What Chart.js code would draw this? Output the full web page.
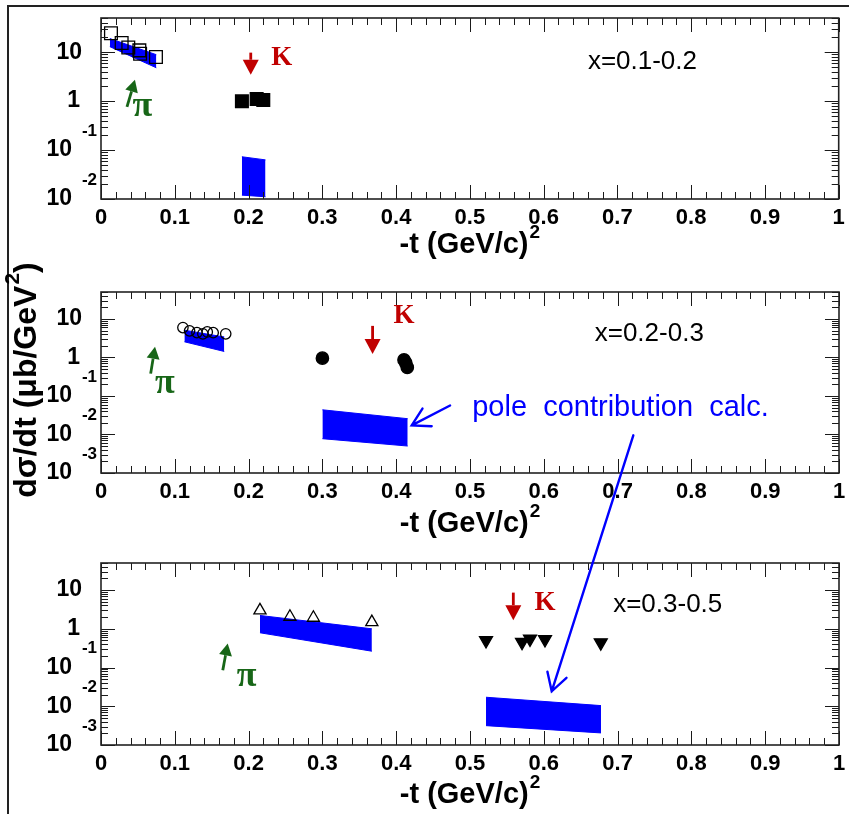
<!DOCTYPE html>
<html lang="en">
<head>
<meta charset="UTF-8">
<title>dσ/dt vs -t</title>
<script src="https://cdn.jsdelivr.net/npm/chart.js@4"></script>
<style>
    body { margin: 0; background: #fff; }
    #wrap { position: relative; width: 849px; height: 814px; }
    #wrap canvas { position: absolute; left: 0; top: 0; }
</style>
</head>
<body>
<div id="wrap">
    <canvas id="c1" width="849" height="814"></canvas>
    <canvas id="c2" width="849" height="814"></canvas>
    <canvas id="c3" width="849" height="814"></canvas>
</div>
<script>
// x = 0.1-0.2
const p1PiT = [0.0135, 0.028, 0.037, 0.052, 0.053, 0.0745];
const p1PiY = [24.3, 15.4, 12.5, 10.9, 9.3, 8.0];
const p1KT = [0.191, 0.211, 0.22];
const p1KY = [0.99, 1.11, 1.05];
const p1PiBandT = [0.012, 0.075];
const p1PiBandHi = [19, 8.9];
const p1PiBandLo = [13, 4.8];
const p1KBandT = [0.191, 0.223];
const p1KBandHi = [0.073, 0.063];
const p1KBandLo = [0.012, 0.0111];

// x = 0.2-0.3
const p2PiT = [0.111, 0.12, 0.13, 0.138, 0.144, 0.152, 0.169];
const p2PiY = [5.96, 4.9, 4.4, 4.1, 4.6, 4.4, 4.1];
const p2KT = [0.300, 0.4106, 0.413, 0.415];
const p2KY = [0.96, 0.86, 0.72, 0.55];
const p2PiBandT = [0.113, 0.167];
const p2PiBandHi = [5.1, 3.4];
const p2PiBandLo = [2.55, 1.43];
const p2KBandT = [0.300, 0.4156];
const p2KBandHi = [0.0437, 0.0257];
const p2KBandLo = [0.00777, 0.00501];

// x = 0.3-0.5
const p3PiT = [0.2154, 0.256, 0.2878, 0.367];
const p3PiY = [3.0, 2.05, 1.93, 1.49];
const p3KT = [0.5217, 0.5705, 0.5813, 0.6016, 0.6772];
const p3KY = [0.50, 0.45, 0.55, 0.53, 0.44];
const p3PiBandT = [0.2154, 0.367];
const p3PiBandHi = [2.21, 1.0];
const p3PiBandLo = [0.79, 0.264];
const p3KBandT = [0.5217, 0.6775];
const p3KBandHi = [0.0171, 0.0104];
const p3KBandLo = [0.00316, 0.00205];

// axis ticks
const xTickVals = [0, 0.1, 0.2, 0.3, 0.4, 0.5, 0.6, 0.7, 0.8, 0.9, 1];
const xTickText = ['0', '0.1', '0.2', '0.3', '0.4', '0.5', '0.6', '0.7', '0.8', '0.9', '1'];
const p1Exps = [-2, -1, 0, 1];
const p23Exps = [-3, -2, -1, 0, 1];

const BLUE = '#0000ff', RED = '#c00000', GREEN = '#176617';
const SANS = '"Liberation Sans", Arial, sans-serif';
const SERIF = '"Liberation Serif", "Times New Roman", serif';

function pts(xs, ys) {
    return xs.map((x, i) => ({ x: x, y: ys[i] }));
}

function markers(xs, ys, style, r, filled, rot) {
    return {
        data: pts(xs, ys), showLine: false, pointStyle: style, pointRadius: r,
        pointRotation: rot || 0, pointBorderWidth: 1.3, pointBorderColor: '#000',
        pointBackgroundColor: filled ? '#000' : 'rgba(0,0,0,0)'
    };
}

function band(xs, hi, lo) {
    return [
        { data: pts(xs, hi), showLine: true, pointRadius: 0, borderWidth: 1, borderColor: BLUE, backgroundColor: BLUE, fill: '+1' },
        { data: pts(xs, lo), showLine: true, pointRadius: 0, borderWidth: 1, borderColor: BLUE, fill: false }
    ];
}

function solidArrow(ctx, x1, y1, x2, y2, color, w, hl, hw) {
    const a = Math.atan2(y2 - y1, x2 - x1);
    const bx = x2 - hl * Math.cos(a), by = y2 - hl * Math.sin(a);
    const nx = -Math.sin(a) * hw / 2, ny = Math.cos(a) * hw / 2;
    ctx.strokeStyle = color; ctx.fillStyle = color; ctx.lineWidth = w;
    ctx.beginPath(); ctx.moveTo(x1, y1); ctx.lineTo(bx, by); ctx.stroke();
    ctx.beginPath(); ctx.moveTo(x2, y2); ctx.lineTo(bx + nx, by + ny); ctx.lineTo(bx - nx, by - ny);
    ctx.closePath(); ctx.fill();
}

function openArrow(ctx, x1, y1, x2, y2, color) {
    const a = Math.atan2(y1 - y2, x1 - x2), s = Math.PI / 6, L = 20;
    ctx.strokeStyle = color; ctx.lineWidth = 2.4; ctx.lineCap = 'round';
    ctx.beginPath();
    ctx.moveTo(x1, y1); ctx.lineTo(x2, y2);
    ctx.moveTo(x2 + L * Math.cos(a + s), y2 + L * Math.sin(a + s)); ctx.lineTo(x2, y2);
    ctx.lineTo(x2 + L * Math.cos(a - s), y2 + L * Math.sin(a - s));
    ctx.stroke();
}

// text with a raised "2"
function supText(ctx, before, sup, after, cx, cy, size) {
    const main = 'bold ' + size + 'px ' + SANS, small = 'bold ' + Math.round(size * 0.66) + 'px ' + SANS;
    ctx.font = main; const w1 = ctx.measureText(before).width, w3 = ctx.measureText(after).width;
    ctx.font = small; const w2 = ctx.measureText(sup).width;
    let x = cx - (w1 + w2 + w3 + 1) / 2;
    ctx.textAlign = 'left'; ctx.textBaseline = 'middle';
    ctx.font = main; ctx.fillText(before, x, cy); x += w1 + 1;
    ctx.font = small; ctx.fillText(sup, x, cy - size * 0.42); x += w2;
    ctx.font = main; ctx.fillText(after, x, cy);
}

const charts = [];

function decor(p) {
    return {
        id: 'decor',
        afterDraw(chart) {
            const ctx = chart.ctx, a = chart.chartArea;
            const X = v => chart.scales.x.getPixelForValue(v);
            const Y = v => chart.scales.y.getPixelForValue(v);
            ctx.save();

            // inward ticks on all four sides
            ctx.strokeStyle = '#1a1a1a'; ctx.lineWidth = 1;
            ctx.beginPath();
            for (let i = 0; i <= 50; i++) {
                const px = Math.round(X(i * 0.02)) + 0.5, len = i % 5 ? 7 : 14;
                ctx.moveTo(px, a.bottom); ctx.lineTo(px, a.bottom - len);
                ctx.moveTo(px, a.top); ctx.lineTo(px, a.top + len);
            }
            p.exps.forEach(e => {
                for (let m = 1; m <= 9; m++) {
                    const v = m * Math.pow(10, e);
                    if (v > 50) break;
                    const py = Math.round(Y(v)) + 0.5, len = m === 1 ? 14 : 7;
                    ctx.moveTo(a.left, py); ctx.lineTo(a.left + len, py);
                    ctx.moveTo(a.right, py); ctx.lineTo(a.right - len, py);
                }
            });
            ctx.stroke();
            ctx.lineWidth = 1.6; ctx.strokeStyle = '#222';
            ctx.strokeRect(a.left, a.top, a.right - a.left, a.bottom - a.top);

            // tick labels
            ctx.fillStyle = '#000';
            ctx.font = 'bold 22px ' + SANS; ctx.textAlign = 'center'; ctx.textBaseline = 'middle';
            xTickVals.forEach((v, i) => ctx.fillText(xTickText[i], X(v), a.bottom + 19));
            ctx.textAlign = 'right';
            p.exps.forEach(e => {
                const py = Y(Math.pow(10, e));
                ctx.font = 'bold 23px ' + SANS;
                if (e === 1) ctx.fillText('10', a.left - 19, py);
                else if (e === 0) ctx.fillText('1', a.left - 21, py);
                else {
                    ctx.fillText('10', a.left - 29, py);
                    ctx.font = 'bold 17px ' + SANS;
                    ctx.fillText(String(e), a.left - 4, py - 19);
                }
            });

            // x title
            supText(ctx, '-t (GeV/c)', '2', '', (a.left + a.right) / 2, a.bottom + p.titleGap, 29);

            // bin label
            ctx.font = '26px ' + SANS; ctx.textAlign = 'left';
            ctx.fillText(p.binText, X(p.binPos[0]), Y(p.binPos[1]));

            // K marker
            const k = p.kArrow;
            solidArrow(ctx, X(k[0]), Y(k[1]), X(k[0]), Y(k[2]), RED, 2.8, 15, 16);
            ctx.fillStyle = RED; ctx.font = 'bold 27px ' + SERIF; ctx.textAlign = 'center';
            ctx.fillText('K', X(p.kText[0]), Y(p.kText[1]));

            // pi marker
            const q = p.piArrow;
            solidArrow(ctx, X(q[0]), Y(q[1]), X(q[2]), Y(q[3]), GREEN, 2.8, 12, 13);
            ctx.fillStyle = GREEN; ctx.font = 'bold 36px ' + SERIF;
            ctx.fillText('π', X(p.piText[0]), Y(p.piText[1]));

            if (p.pole) {
                ctx.fillStyle = BLUE; ctx.font = '29px ' + SANS; ctx.textAlign = 'left';
                ctx.fillText('pole  contribution  calc.', X(p.pole.text[0]), Y(p.pole.text[1]));
                const r = p.pole.arrow;
                openArrow(ctx, X(r[0]), Y(r[1]), X(r[2]), Y(r[3]), BLUE);
            }

            if (p.figFrame) {
                ctx.strokeStyle = '#222'; ctx.lineWidth = 2;
                ctx.beginPath(); ctx.moveTo(8, 814); ctx.lineTo(8, 6); ctx.lineTo(849, 6); ctx.stroke();
            }
            if (p.yTitle) {
                ctx.save();
                ctx.translate(27, 380); ctx.rotate(-Math.PI / 2);
                ctx.fillStyle = '#000';
                supText(ctx, 'dσ/dt (μb/GeV', '2', ')', 0, 0, 32);
                ctx.restore();
            }
            if (p.longArrow && charts[1]) {
                const c2 = charts[1], L = p.longArrow;
                openArrow(ctx, c2.scales.x.getPixelForValue(L[0]), c2.scales.y.getPixelForValue(L[1]),
                    X(L[2]), Y(L[3]), BLUE);
            }
            ctx.restore();
        }
    };
}

const panels = [
    {
        id: 'c1', top: 18, bottom: 199, yMin: 0.01, exps: p1Exps, titleGap: 46, figFrame: true,
        binText: 'x=0.1-0.2', binPos: [0.66, 6.4],
        kArrow: [0.203, 9.8, 3.46], kText: [0.245, 7.7],
        piArrow: [0.0352, 0.76, 0.046, 2.73], piText: [0.056, 0.775],
        sets: [markers(p1PiT, p1PiY, 'rect', 9, false), markers(p1KT, p1KY, 'rect', 9, true)]
            .concat(band(p1PiBandT, p1PiBandHi, p1PiBandLo), band(p1KBandT, p1KBandHi, p1KBandLo))
    },
    {
        id: 'c2', top: 292, bottom: 473, yMin: 0.001, exps: p23Exps, titleGap: 51, yTitle: true,
        binText: 'x=0.2-0.3', binPos: [0.669, 4.1],
        kArrow: [0.368, 6.6, 1.22], kText: [0.4106, 12],
        piArrow: [0.0673, 0.38, 0.0732, 1.89], piText: [0.0867, 0.209],
        pole: { text: [0.503, 0.05], arrow: [0.473, 0.0565, 0.421, 0.0172] },
        sets: [markers(p2PiT, p2PiY, 'circle', 5.2, false), markers(p2KT, p2KY, 'circle', 6.2, true)]
            .concat(band(p2PiBandT, p2PiBandHi, p2PiBandLo), band(p2KBandT, p2KBandHi, p2KBandLo))
    },
    {
        id: 'c3', top: 563, bottom: 745, yMin: 0.001, exps: p23Exps, titleGap: 50,
        binText: 'x=0.3-0.5', binPos: [0.694, 4.27],
        kArrow: [0.5587, 8.6, 1.67], kText: [0.6016, 4.5],
        piArrow: [0.165, 0.0851, 0.1717, 0.418], piText: [0.1974, 0.0585],
        longArrow: [0.7213, 0.0095, 0.6107, 0.0244],
        sets: [markers(p3PiT, p3PiY, 'triangle', 7, false), markers(p3KT, p3KY, 'triangle', 7.5, true, 180)]
            .concat(band(p3PiBandT, p3PiBandHi, p3PiBandLo), band(p3KBandT, p3KBandHi, p3KBandLo))
    }
];

panels.forEach(p => {
    const chart = new Chart(document.getElementById(p.id), {
        type: 'line',
        data: { datasets: p.sets },
        options: {
            responsive: false,
            animation: false,
            events: [],
            layout: { padding: { left: 101, right: 10, top: p.top, bottom: 814 - p.bottom } },
            plugins: { legend: { display: false }, tooltip: { enabled: false } },
            scales: {
                x: { type: 'linear', min: 0, max: 1, display: false },
                y: { type: 'logarithmic', min: p.yMin, max: 50, display: false }
            }
        },
        plugins: [decor(p)]
    });
    charts.push(chart);
});
</script>
</body>
</html>
